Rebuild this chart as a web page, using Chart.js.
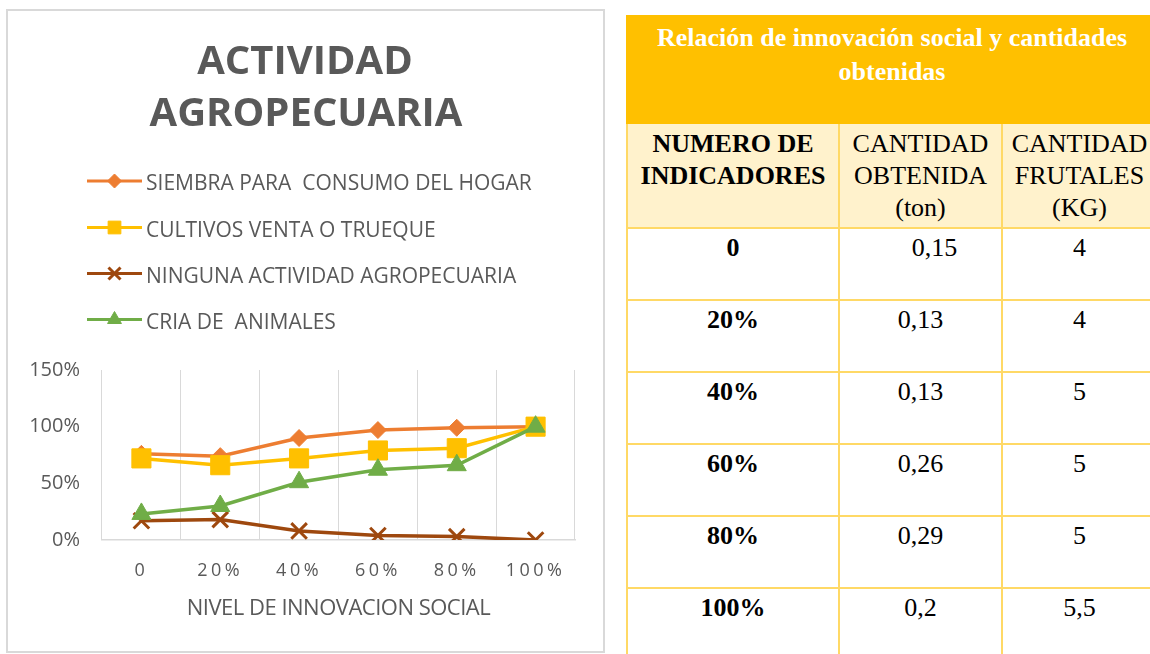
<!DOCTYPE html>
<html>
<head>
<meta charset="utf-8">
<script src="https://cdn.jsdelivr.net/npm/chart.js@4.4.1/dist/chart.umd.min.js"></script>
<style>
html,body{margin:0;padding:0;background:#fff;width:1150px;height:654px;overflow:hidden;position:relative;}
#c{position:absolute;left:0;top:0;}
#frame{position:absolute;left:6px;top:9px;width:599px;height:644px;border:2px solid #d9d9d9;box-sizing:border-box;pointer-events:none;}
#tbl{position:absolute;left:626px;top:15px;border-collapse:collapse;table-layout:fixed;width:530px;
  font-family:"Liberation Serif","Times New Roman",serif;font-size:26px;color:#000;}
#tbl td,#tbl th{border:2px solid #FFD966;padding:0;text-align:center;vertical-align:top;line-height:32px;white-space:nowrap;overflow:visible;}
#tbl .h0 th{background:#FFC000;color:#fff;font-weight:bold;height:101px;padding-top:4px;border-color:#FFC000;line-height:34px;}
#tbl .h1 th{background:#FFF2CC;font-weight:normal;height:99px;padding-top:4px;}
#tbl .h1 th.b{font-weight:bold;}
#tbl tbody td{height:67px;padding-top:3px;background:#fff;}
#tbl tbody td.b{font-weight:bold;}
#tbl tbody td.indent{padding-left:28px;}
</style>
</head>
<body>
<canvas id="c" width="612" height="654"></canvas>
<div id="frame"></div>
<table id="tbl">
<colgroup><col style="width:212px"><col style="width:163px"><col style="width:155px"></colgroup>
<thead>
<tr class="h0"><th colspan="3" id="tblTitle"></th></tr>
<tr class="h1" id="hrow"></tr>
</thead>
<tbody id="tb"></tbody>
</table>
<script>
// ---- chart data ----
const categories = ['0', '20%', '40%', '60%', '80%', '100%'];
const siembra  = [76, 74, 90, 97, 99, 100];
const cultivos = [72, 66, 72, 79, 81, 100];
const ninguna  = [17, 18, 8, 4, 3, 0];
const cria     = [23, 30, 51, 62, 66, 100];
const seriesNames = ['SIEMBRA PARA  CONSUMO DEL HOGAR', 'CULTIVOS VENTA O TRUEQUE', 'NINGUNA ACTIVIDAD AGROPECUARIA', 'CRIA DE  ANIMALES'];
const yTickValues = [0, 50, 100, 150];
const chartTitle = ['ACTIVIDAD', 'AGROPECUARIA'];
const xAxisTitle = 'NIVEL DE INNOVACION SOCIAL';

// ---- table data ----
const tableTitle = ['Relación de innovación social y cantidades', 'obtenidas'];
const tableHeaders = [['NUMERO DE', 'INDICADORES'], ['CANTIDAD', 'OBTENIDA', '(ton)'], ['CANTIDAD', 'FRUTALES', '(KG)']];
const tableLevels = ['0', '20%', '40%', '60%', '80%', '100%'];
const cantidadObtenida = ['0,15', '0,13', '0,13', '0,26', '0,29', '0,2'];
const cantidadFrutales = ['4', '4', '5', '5', '5', '5,5'];

// build table
document.getElementById('tblTitle').innerHTML = tableTitle.join('<br>');
const hrow = document.getElementById('hrow');
tableHeaders.forEach((h, i) => {
  const th = document.createElement('th');
  if (i === 0) th.className = 'b';
  th.innerHTML = h.join('<br>');
  hrow.appendChild(th);
});
const tb = document.getElementById('tb');
tableLevels.forEach((lv, i) => {
  const tr = document.createElement('tr');
  const a = document.createElement('td'); a.className = 'b'; a.textContent = lv;
  const b = document.createElement('td'); b.textContent = cantidadObtenida[i]; if (i === 0) b.className = 'indent';
  const c = document.createElement('td'); c.textContent = cantidadFrutales[i];
  tr.appendChild(a); tr.appendChild(b); tr.appendChild(c);
  tb.appendChild(tr);
});

const GRAY = '#595959';
const colors = ['#ED7D31', '#FFC000', '#9E480E', '#70AD47'];
const styles = ['rectRot', 'rect', 'crossRot', 'triangle'];
const radii = [8.5, 13.5, 11, 11];
const legendRadii = [7, 9, 8.5, 8];

function drawMarker(ctx, style, x, y, r, color) {
  ctx.save();
  ctx.fillStyle = color; ctx.strokeStyle = color; ctx.lineWidth = 1;
  ctx.beginPath();
  if (style === 'rectRot') {
    ctx.moveTo(x, y - r); ctx.lineTo(x + r, y); ctx.lineTo(x, y + r); ctx.lineTo(x - r, y); ctx.closePath();
    ctx.fill(); ctx.stroke();
  } else if (style === 'rect') {
    const s = r * Math.SQRT1_2;
    ctx.rect(x - s, y - s, 2 * s, 2 * s); ctx.fill(); ctx.stroke();
  } else if (style === 'crossRot') {
    const s = r * Math.SQRT1_2;
    ctx.lineWidth = 3;
    ctx.moveTo(x - s, y - s); ctx.lineTo(x + s, y + s);
    ctx.moveTo(x + s, y - s); ctx.lineTo(x - s, y + s);
    ctx.stroke();
  } else if (style === 'triangle') {
    const h = r * 0.866;
    ctx.moveTo(x, y - r); ctx.lineTo(x + h, y + r / 2); ctx.lineTo(x - h, y + r / 2); ctx.closePath();
    ctx.fill(); ctx.stroke();
  }
  ctx.restore();
}

const decorPlugin = {
  id: 'decor',
  beforeDraw(chart) {
    const sx = chart.scales.x;
    if (sx && !sx._patched) {
      const origLabels = sx.drawLabels.bind(sx);
      sx.drawLabels = function (a) { const c = this.ctx; c.save(); c.letterSpacing = '3.5px'; origLabels(a); c.restore(); };
      const origTitle = sx.drawTitle.bind(sx);
      sx.drawTitle = function (a) { const c = this.ctx; c.save(); c.letterSpacing = '-0.5px'; origTitle(a); c.restore(); };
      sx._patched = true;
    }
  },
  afterDraw(chart) {
    const ctx = chart.ctx;
    ctx.save();
    // title
    ctx.fillStyle = GRAY;
    ctx.textAlign = 'center';
    ctx.textBaseline = 'alphabetic';
    ctx.font = 'bold 40px "Open Sans"';
    ctx.fillText(chartTitle[0], 305, 74);
    ctx.fillText(chartTitle[1], 306, 126);
    // legend
    const rows = [181, 227.5, 273.5, 319.5];
    chart.data.datasets.forEach((ds, i) => {
      const y = rows[i];
      ctx.strokeStyle = ds.borderColor;
      ctx.lineWidth = 3;
      ctx.lineCap = 'butt';
      ctx.beginPath(); ctx.moveTo(87, y); ctx.lineTo(142, y); ctx.stroke();
      drawMarker(ctx, ds.pointStyle, 114.5, y, legendRadii[i], ds.borderColor);
      ctx.fillStyle = GRAY;
      ctx.textAlign = 'left';
      ctx.font = '21px "Open Sans"';
      ctx.fillText(ds.label, 146, y + 9);
    });
    ctx.restore();
  }
};

const seriesData = [siembra, cultivos, ninguna, cria];
const datasets = seriesData.map((d, i) => ({
  label: seriesNames[i],
  data: d,
  borderColor: colors[i],
  backgroundColor: colors[i],
  pointBackgroundColor: colors[i],
  pointBorderColor: colors[i],
  pointStyle: styles[i],
  pointRadius: radii[i],
  pointHoverRadius: radii[i],
  pointBorderWidth: styles[i] === 'crossRot' ? 3 : 1,
  borderWidth: 3.5,
  tension: 0,
  fill: false,
  order: 4 - i
}));

function build() {
  new Chart(document.getElementById('c'), {
    type: 'line',
    data: { labels: categories, datasets },
    options: {
      responsive: false,
      devicePixelRatio: 1,
      animation: false,
      layout: { padding: { left: 20, right: 37, top: 370, bottom: 31.5 } },
      plugins: { legend: { display: false }, title: { display: false }, tooltip: { enabled: false } },
      scales: {
        x: {
          offset: true,
          grid: { display: true, offset: true, color: '#d9d9d9', lineWidth: 1, drawTicks: false },
          border: { display: true, color: '#d9d9d9', width: 1.5 },
          ticks: { color: GRAY, font: { family: 'Open Sans', size: 18 }, padding: 20, maxRotation: 0, autoSkip: false },
          title: { display: true, text: xAxisTitle, color: GRAY, font: { family: 'Open Sans', size: 22 }, padding: { top: 0, bottom: 1 } },
          afterFit(s) { s.height = 82.5; }
        },
        y: {
          min: 0, max: 150,
          afterBuildTicks(s) { s.ticks = yTickValues.map(v => ({ value: v })); },
          grid: { display: false, drawTicks: false },
          border: { display: false },
          ticks: { color: GRAY, font: { family: 'Open Sans', size: 20 }, padding: 22, callback: v => v + '%' },
          afterFit(s) { s.width = 82; }
        }
      }
    },
    plugins: [decorPlugin]
  });
}
Promise.all([
  document.fonts.load('bold 40px "Open Sans"'),
  document.fonts.load('21px "Open Sans"')
]).then(build, build);
</script>
</body>
</html>
